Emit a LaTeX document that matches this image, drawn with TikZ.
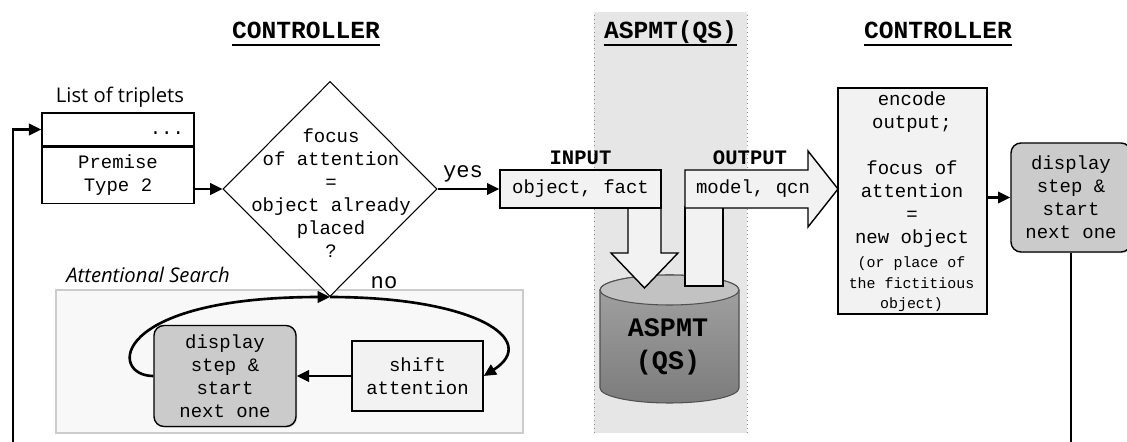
\documentclass[tikz,border=0pt]{standalone}
\usepackage{fontspec}
\setsansfont{Open Sans}
\setmonofont{Liberation Mono}
\usetikzlibrary{positioning,shapes.geometric,arrows.meta,shadows}

\definecolor{bandgray}{HTML}{E6E6E6}
\definecolor{bandedge}{HTML}{8C8C8C}
\definecolor{boxgray}{HTML}{F2F2F2}
\definecolor{stepgray}{HTML}{CBCBCB}
\definecolor{areagray}{HTML}{F8F8F8}
\definecolor{areaedge}{HTML}{CCCCCC}
\definecolor{cyltop}{HTML}{C2C2C2}
\definecolor{cylupper}{HTML}{A4A4A4}
\definecolor{cyllower}{HTML}{7C7C7C}
\definecolor{cyledge}{HTML}{505050}

\newcommand{\codefont}{\ttfamily\fontsize{10.8}{13.1}\selectfont}
\newcommand{\notefont}{\ttfamily\fontsize{8.5}{11.7}\selectfont}
\newcommand{\headfont}{\ttfamily\bfseries\fontsize{14}{16}\selectfont}
\newcommand{\tagfont}{\ttfamily\bfseries\fontsize{11.7}{14}\selectfont}
\newcommand{\dbfont}{\ttfamily\bfseries\fontsize{15.2}{18.8}\selectfont}
\newcommand{\answerfont}{\ttfamily\fontsize{12.6}{15}\selectfont}
\newcommand{\captionfont}{\sffamily\fontsize{11.5}{14}\selectfont}

\tikzset{
  title/.style={font=\headfont, inner sep=0pt, anchor=base},
  uline/.style={line width=1.5pt},
  caption/.style={font=\captionfont, inner sep=0pt},
  tag/.style={font=\tagfont, inner sep=0pt, anchor=base},
  answer/.style={font=\answerfont, inner sep=0pt, anchor=base},
  listcell/.style={draw, line width=0.8pt, fill=white, font=\codefont, align=center},
  plainbox/.style={draw, line width=0.8pt, fill=boxgray, font=\codefont, align=center},
  stepbox/.style={draw, line width=0.8pt, fill=stepgray, rounded corners=0.2cm,
    font=\codefont, align=center,
    drop shadow={opacity=0.35, shadow xshift=0.6pt, shadow yshift=-0.6pt}},
  decision/.style={diamond, draw, line width=0.6pt, fill=white, inner sep=0pt,
    minimum width=4.28cm, minimum height=4.3cm},
  area/.style={draw=areaedge, line width=0.8pt, fill=areagray},
  blockarr/.style={draw, line width=0.8pt, fill=boxgray},
  arr/.style={line width=1.5pt, -{Triangle[length=7pt,width=6.5pt]}},
  line/.style={line width=1.5pt}
}

\begin{document}
\begin{tikzpicture}
    \useasboundingbox (0,0) rectangle (22.54,8.84);
    \fill[white] (0,0) rectangle (22.54,8.84);

    % ASPMT(QS) band
    \fill[bandgray] (11.88,0.18) rectangle (14.94,8.6);
    \draw[bandedge, dotted] (11.88,0.18) -- (11.88,8.6);
    \draw[bandedge, dotted] (14.94,0.18) -- (14.94,8.6);

    % Column titles
    \node[title] (ctrlL) at (6.12,8.06) {CONTROLLER};
    \node[title] (solver) at (13.41,8.06) {ASPMT(QS)};
    \node[title] (ctrlR) at (18.76,8.06) {CONTROLLER};
    \foreach \t in {ctrlL,solver,ctrlR}
        \draw[uline] ([yshift=-3.4pt]\t.base west) -- ([yshift=-3.4pt]\t.base east);

    % Attentional search area
    \node[area, minimum width=9.34cm, minimum height=2.86cm] (search) at (5.79,1.61) {};
    \node[caption, anchor=west] (searchlbl) at (1.32,3.34) {\itshape Attentional Search};

    % List of triplets
    \node[caption] (tripl) at (2.4,6.9) {List of triplets};
    \node[listcell, text width=2.64cm, inner xsep=0.2cm, align=right, minimum height=0.66cm,
        text height=1.5ex, text depth=0.25ex] (listtop) at (2.36,6.25) {...};
    \node[listcell, minimum width=3.04cm, minimum height=1.12cm, below=0pt of listtop] (premise) {Premise\\Type 2};

    % Decision
    \node[decision] (focus) at (6.6,5.06) {};
    \node[font=\codefont, align=center] (focustxt) at (6.62,4.98)
        {focus\\of attention\\=\\object already\\placed\\?};
    \draw[arr] (premise.east |- focus.west) -- (focus.west);

    % Solver database
    \path[draw=cyledge, line width=0.6pt, top color=cylupper, bottom color=cyllower]
        (12.0,3.04) -- (12.0,1.08) arc[start angle=180, end angle=360, x radius=1.39, y radius=0.3]
        -- (14.78,3.04) arc[start angle=0, end angle=180, x radius=1.39, y radius=0.3] -- cycle;
    \draw[draw=cyledge, line width=0.6pt, fill=cyltop] (13.39,3.04) ellipse[x radius=1.39, y radius=0.3];
    \node[font=\dbfont, align=center] (aspmt) at (13.36,1.91) {ASPMT\\(QS)};

    % Input into the solver
    \draw[blockarr] (12.56,4.7) -- (12.56,3.78) -- (12.22,3.78) -- (12.89,3.08)
        -- (13.56,3.78) -- (13.22,3.78) -- (13.22,4.7) -- cycle;
    \node[plainbox, minimum width=3.22cm, minimum height=0.76cm] (input) at (11.61,5.06) {object, fact};
    \node[tag] (intag) at ([yshift=2.8pt]input.north) {INPUT};
    \draw[arr] (focus.east) -- (input.west);
    \node[answer] (yes) at (9.26,5.28) {yes};

    % Output of the solver
    \draw[blockarr] (13.7,3.12) rectangle (14.46,4.7);
    \draw[blockarr] (13.7,4.68) -- (13.7,5.44) -- (16.16,5.44) -- (16.16,5.82) -- (16.76,5.06)
        -- (16.16,4.3) -- (16.16,4.68) -- cycle;
    \node[font=\codefont] (outtxt) at (15.06,5.06) {model, qcn};
    \node[tag] (outtag) at (15.0,5.54) {OUTPUT};

    % Encode output
    \node[plainbox, minimum width=2.98cm, minimum height=4.52cm] (enc) at (18.25,4.82) {};
    \node[font=\codefont, align=center] (enctxt) at (18.24,5.44)
        {encode\\output;\\[13.1pt]focus of\\attention\\=\\new object};
    \node[font=\notefont, align=center] (encnote) at (18.23,3.15)
        {(or place of\\the fictitious\\object)};

    % Next step (right)
    \coordinate (fb) at (0.26,0);
    \node[stepbox, minimum width=2.4cm, minimum height=2.18cm] (disp2) at (21.42,4.89)
        {display\\step \&\\start\\next one};
    \draw[arr] (enc.east |- disp2.west) -- (disp2.west);
    \draw[line] (disp2.south) -- (disp2.south |- fb);

    % Back to the list
    \draw[arr] (fb) |- (listtop.west);

    % Attentional search loop
    \node[stepbox, minimum width=2.84cm, minimum height=2.02cm] (disp1) at (4.5,1.32)
        {display\\step \&\\start\\next one};
    \node[plainbox, minimum width=2.62cm, minimum height=1.4cm] (shift) at (8.35,1.32) {shift\\attention};
    \draw[arr] (shift.west) -- (disp1.east);
    \draw[arr] (disp1.west) .. controls +(-0.9,0) and +(-4.4,0) .. (focus.south);
    \draw[arr] (focus.south) .. controls +(2.9,0) and +(1.14,0.72) .. (shift.east);
    \node[answer] (no) at (7.68,3.07) {no};
\end{tikzpicture}
\end{document}
